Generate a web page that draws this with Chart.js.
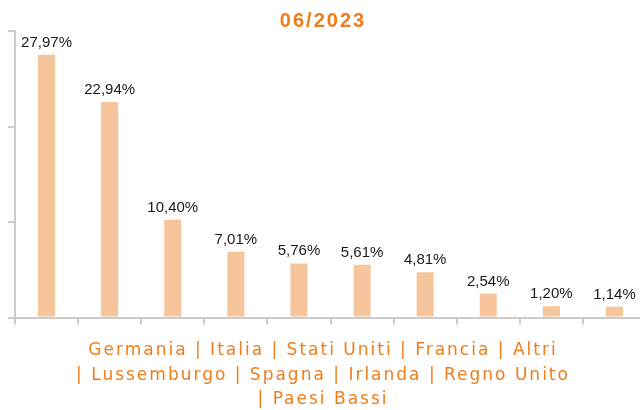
<!DOCTYPE html>
<html>
<head>
<meta charset="utf-8">
<script src="https://cdn.jsdelivr.net/npm/chart.js@4/dist/chart.umd.min.js"></script>
<style>
  html, body { margin: 0; padding: 0; background: #fff; overflow: hidden; }
</style>
</head>
<body>
<canvas id="chart" width="646" height="410"></canvas>
<script>
const period = '06/2023'
const countries = [
  'Germania', 'Italia', 'Stati Uniti', 'Francia', 'Altri',
  'Lussemburgo', 'Spagna', 'Irlanda', 'Regno Unito', 'Paesi Bassi'
]
const shares = [27.97, 22.94, 10.40, 7.01, 5.76, 5.61, 4.81, 2.54, 1.20, 1.14]
const yMax = 30.5

const orange = '#ef7d1a'
const axisGrey = '#cccccc'

// bottom caption: the country names joined, wrapped like the original
const captionLines = [
  countries.slice(0, 5).join(' | '),
  '| ' + countries.slice(5, 9).join(' | '),
  '| ' + countries.slice(9).join(' | ')
]

const fmt = v => v.toFixed(2).replace('.', ',') + '%'

const spacing = {
  id: 'spacing',
  beforeDraw(chart) { chart.ctx.letterSpacing = '2px' },
  afterDraw(chart) { chart.ctx.letterSpacing = '0px' }
}

const valueLabels = {
  id: 'valueLabels',
  afterDatasetsDraw(chart) {
    const ctx = chart.ctx
    const meta = chart.getDatasetMeta(0)
    ctx.save()
    ctx.letterSpacing = '0px'
    ctx.font = '15px "Liberation Sans", Arial, sans-serif'
    ctx.fillStyle = '#1a1a1a'
    ctx.textAlign = 'center'
    ctx.textBaseline = 'alphabetic'
    meta.data.forEach((bar, i) => {
      ctx.fillText(fmt(shares[i]), bar.x, bar.y - 8)
    })
    ctx.restore()
  }
}

new Chart(document.getElementById('chart'), {
  type: 'bar',
  data: {
    labels: countries,
    datasets: [{
      data: shares,
      backgroundColor: '#f7c59b',
      borderWidth: 0,
      categoryPercentage: 1,
      barPercentage: 0.27
    }]
  },
  options: {
    responsive: false,
    animation: false,
    layout: { padding: 0 },
    scales: {
      x: {
        ticks: { display: false },
        grid: {
          offset: true,
          drawOnChartArea: false,
          drawTicks: true,
          tickLength: 7,
          color: axisGrey,
          lineWidth: 2
        },
        border: { color: axisGrey, width: 2 }
      },
      y: {
        min: 0,
        max: yMax,
        afterBuildTicks: s => {
          s.ticks = [0, yMax / 3, yMax * 2 / 3, yMax].map(v => ({ value: v }))
        },
        afterFit: s => { s.width = 15 },
        ticks: { display: false },
        grid: {
          drawOnChartArea: false,
          drawTicks: true,
          tickLength: 7,
          color: axisGrey,
          lineWidth: 2
        },
        border: { color: axisGrey, width: 2 }
      }
    },
    plugins: {
      legend: { display: false },
      tooltip: { enabled: false },
      title: {
        display: true,
        text: period,
        color: orange,
        font: { family: '"Liberation Sans", Arial, sans-serif', size: 20, weight: 'bold', lineHeight: 1 },
        padding: { top: 11, bottom: 0 }
      },
      subtitle: {
        display: true,
        position: 'bottom',
        text: captionLines,
        color: orange,
        font: { family: '"DejaVu Sans", Verdana, sans-serif', size: 17, lineHeight: 1.44 },
        padding: { top: 14, bottom: -2 }
      }
    }
  },
  plugins: [spacing, valueLabels]
})
</script>
</body>
</html>
